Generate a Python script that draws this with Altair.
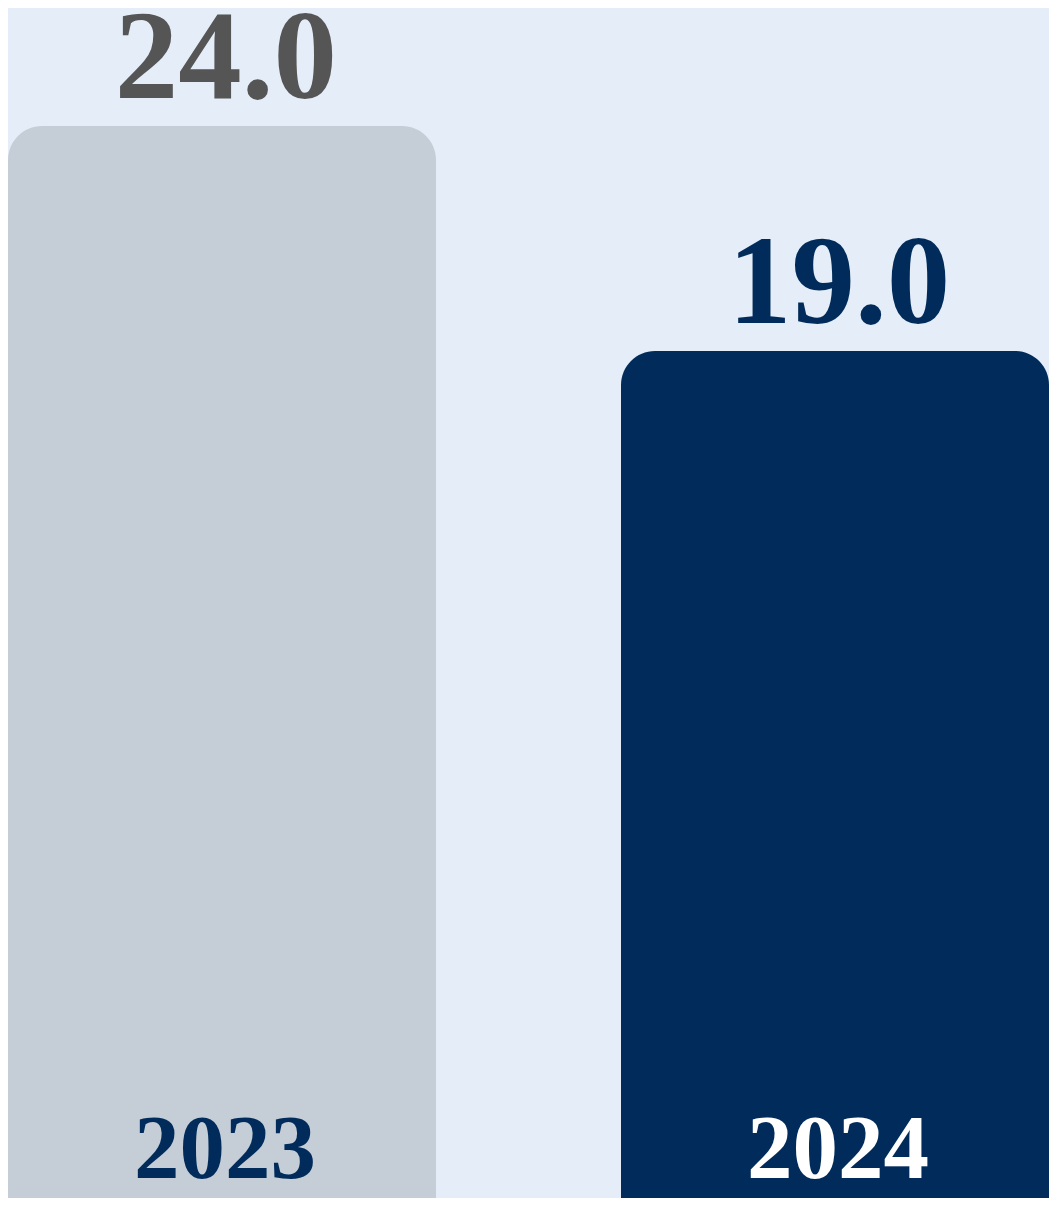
import altair as alt
import pandas as pd

years = ["2023", "2024"]
values = [24.0, 19.0]
bar_colors = ["#C5CED7", "#002B5A"]
value_label_colors = ["#555555", "#002B5A"]
year_label_colors = ["#002B5A", "#FFFFFF"]

df = pd.DataFrame({"year": years, "value": values})

W, H = 1041, 1190

x = alt.X("year:N", axis=None, sort=years,
          scale=alt.Scale(paddingInner=0.3018, paddingOuter=0))
yscale = alt.Scale(domain=[0.178, 26.62], zero=False, nice=False)

base = alt.Chart(df)

bars = base.mark_bar(cornerRadiusTopLeft=34, cornerRadiusTopRight=34, clip=True).encode(
    x=x,
    y=alt.Y("value:Q", axis=None, scale=yscale),
    y2=alt.datum(0),
    color=alt.Color("year:N", scale=alt.Scale(domain=years, range=bar_colors), legend=None),
)

value_labels = base.mark_text(
    font="Liberation Serif", fontWeight="bold", fontSize=127,
    baseline="alphabetic", align="center", dy=-28, dx=4,
).encode(
    x=x,
    y=alt.Y("value:Q", axis=None, scale=yscale),
    text=alt.Text("value:Q", format=".1f"),
    color=alt.Color("year:N", scale=alt.Scale(domain=years, range=value_label_colors), legend=None),
)

year_labels = base.mark_text(
    font="Liberation Serif", fontWeight="bold", fontSize=91,
    baseline="alphabetic", align="center", dy=-28, dx=3,
).encode(
    x=x,
    y=alt.Y(datum=0, axis=None, scale=yscale),
    text="year:N",
    color=alt.Color("year:N", scale=alt.Scale(domain=years, range=year_label_colors), legend=None),
)

chart = alt.layer(bars, value_labels, year_labels).resolve_scale(
    color="independent"
).properties(
    width=W, height=H,
    autosize=alt.AutoSizeParams(type="none"),
    padding=0,
    background="#E5EEF8",
).configure_view(stroke=None)

chart.save("out.html", embed_options={"renderer": "svg", "actions": False})
